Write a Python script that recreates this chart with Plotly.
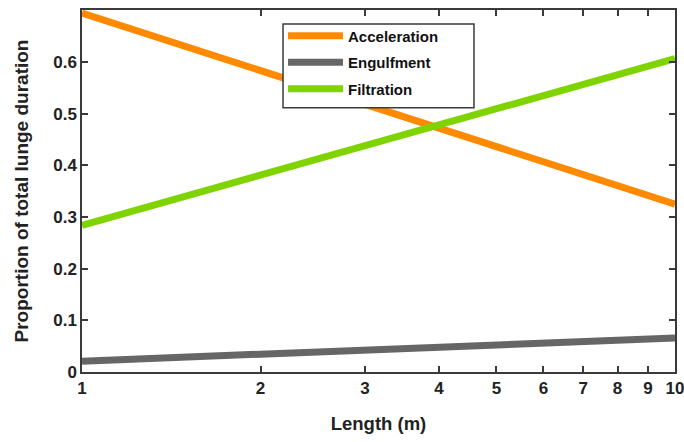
import plotly.graph_objects as go

# Body length (m) and the share of total lunge duration spent in each phase
length_m = [1, 2, 3, 4, 5, 6, 7, 8, 9, 10]
acceleration = [0.695, 0.584, 0.519, 0.473, 0.437, 0.408, 0.383, 0.362, 0.343, 0.325]
engulfment = [0.021, 0.034, 0.041, 0.046, 0.050, 0.054, 0.057, 0.060, 0.063, 0.066]
filtration = [0.284, 0.381, 0.438, 0.478, 0.509, 0.535, 0.556, 0.575, 0.591, 0.607]

series = [
    ("Acceleration", acceleration, "#ff8a00"),
    ("Engulfment", engulfment, "#666666"),
    ("Filtration", filtration, "#7fd400"),
]

x_ticks = [1, 2, 3, 4, 5, 6, 7, 8, 9, 10]
y_ticks = [0, 0.1, 0.2, 0.3, 0.4, 0.5, 0.6]
y_ticktext = ["0", "0.1", "0.2", "0.3", "0.4", "0.5", "0.6"]

FONT = "Arial, Liberation Sans, sans-serif"
AXIS_COLOR = "#3a3a3a"
TEXT_COLOR = "#222222"

fig = go.Figure()
for name, values, color in series:
    fig.add_trace(go.Scatter(
        x=length_m, y=values, name=name, mode="lines",
        legendgroup=name,
        line=dict(color=color, width=7),
    ))

# White framed panel behind the legend entries (covers the lines beneath it)
fig.add_shape(
    type="rect", xref="paper", yref="paper",
    x0=0.339, x1=0.661, y0=0.730, y1=0.961,
    fillcolor="white", line=dict(color=AXIS_COLOR, width=1.5), layer="above",
)

fig.update_layout(
    width=684, height=442,
    margin=dict(l=82, r=9, t=10, b=70),
    paper_bgcolor="white", plot_bgcolor="white",
    font=dict(family=FONT, size=16, color=TEXT_COLOR, weight="bold"),
    showlegend=True,
    legend=dict(
        x=0.339, y=0.974, xanchor="left", yanchor="top",
        bgcolor="rgba(0,0,0,0)", borderwidth=0,
        font=dict(family=FONT, size=15, color="#111111", weight="bold"),
        traceorder="grouped", tracegroupgap=4, itemwidth=55,
    ),
)

fig.update_xaxes(
    type="log", range=[0, 1], automargin=False, ticklabeloverflow="allow",
    tickvals=x_ticks, ticktext=[str(v) for v in x_ticks],
    ticks="inside", ticklen=6, tickwidth=1.5, tickcolor=AXIS_COLOR,
    showline=True, linecolor=AXIS_COLOR, linewidth=1.5, mirror="ticks",
    showgrid=False, zeroline=False,
    tickfont=dict(family=FONT, size=17, color=TEXT_COLOR, weight="bold"),
    title=dict(text="Length (m)", standoff=20,
               font=dict(family=FONT, size=18.5, color=TEXT_COLOR, weight="bold")),
)
fig.update_yaxes(
    range=[0, 0.701], automargin=False, ticklabeloverflow="allow",
    tickvals=y_ticks, ticktext=y_ticktext,
    ticks="inside", ticklen=6, tickwidth=1.5, tickcolor=AXIS_COLOR,
    showline=True, linecolor=AXIS_COLOR, linewidth=1.5, mirror="ticks",
    showgrid=False, zeroline=False,
    tickfont=dict(family=FONT, size=17, color=TEXT_COLOR, weight="bold"),
    title=dict(text="Proportion of total lunge duration", standoff=20,
               font=dict(family=FONT, size=19, color=TEXT_COLOR, weight="bold")),
)

fig.write_html("out.html")
